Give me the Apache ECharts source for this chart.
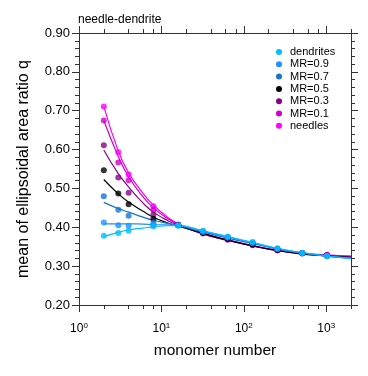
<!DOCTYPE html>
<html>
<head>
<meta charset="utf-8">
<script src="https://cdn.jsdelivr.net/npm/echarts@6/dist/echarts.min.js"></script>
<style>
  html, body { margin: 0; padding: 0; background: #fff; }
  #chart { width: 368px; height: 376px; }
</style>
</head>
<body>
<div id="chart"></div>
<script>
// monomer numbers of the plotted means
var xPoints = [2, 3, 4, 8, 16, 32, 64, 128, 256, 512, 1024];
var xFit = [2, 3, 4, 6, 8, 12, 16, 32, 64, 128, 256, 512, 1024, 2000];

var names = ['dendrites', 'MR=0.9', 'MR=0.7', 'MR=0.5', 'MR=0.3', 'MR=0.1', 'needles'];
var colors = ['#00bfff', '#1e90ff', '#1874cd', '#000000', '#8b008b', '#cd00cd', '#ff00ff'];

var dendrites = [0.378, 0.385, 0.391, 0.402, 0.404, 0.391, 0.376, 0.362, 0.346, 0.334, 0.326];
var mr09 = [0.412, 0.405, 0.404, 0.405, 0.405, 0.390, 0.375, 0.361, 0.345, 0.334, 0.326];
var mr07 = [0.480, 0.445, 0.430, 0.411, 0.405, 0.388, 0.373, 0.359, 0.344, 0.334, 0.327];
var mr05 = [0.547, 0.487, 0.459, 0.422, 0.405, 0.386, 0.370, 0.356, 0.342, 0.333, 0.327];
var mr03 = [0.611, 0.528, 0.489, 0.433, 0.406, 0.385, 0.369, 0.355, 0.341, 0.333, 0.328];
var mr01 = [0.675, 0.567, 0.521, 0.445, 0.406, 0.385, 0.369, 0.355, 0.341, 0.333, 0.328];
var needles = [0.711, 0.593, 0.536, 0.454, 0.407, 0.384, 0.368, 0.354, 0.341, 0.333, 0.329];

var fitDendrites = [0.376, 0.387, 0.393, 0.398, 0.401, 0.404, 0.404, 0.391, 0.376, 0.361, 0.346, 0.335, 0.326, 0.320];
var fitMr09 = [0.409, 0.409, 0.409, 0.408, 0.407, 0.406, 0.405, 0.390, 0.375, 0.360, 0.345, 0.334, 0.326, 0.320];
var fitMr07 = [0.464, 0.448, 0.439, 0.426, 0.418, 0.410, 0.404, 0.388, 0.372, 0.358, 0.344, 0.334, 0.326, 0.321];
var fitMr05 = [0.523, 0.486, 0.465, 0.441, 0.426, 0.411, 0.403, 0.385, 0.367, 0.352, 0.340, 0.331, 0.326, 0.322];
var fitMr03 = [0.599, 0.538, 0.504, 0.462, 0.439, 0.417, 0.406, 0.383, 0.366, 0.352, 0.340, 0.332, 0.327, 0.324];
var fitMr01 = [0.675, 0.582, 0.530, 0.478, 0.450, 0.422, 0.408, 0.383, 0.367, 0.353, 0.341, 0.333, 0.328, 0.325];
var fitNeedles = [0.711, 0.596, 0.540, 0.487, 0.457, 0.425, 0.409, 0.383, 0.367, 0.353, 0.341, 0.333, 0.329, 0.326];

var pointSets = [dendrites, mr09, mr07, mr05, mr03, mr01, needles];
var fitSets = [fitDendrites, fitMr09, fitMr07, fitMr05, fitMr03, fitMr01, fitNeedles];

var majorX = [1, 10, 100, 1000];
var minorX = [2, 4, 6, 8, 20, 40, 60, 80, 200, 400, 600, 800, 2000];

var font = 'Liberation Sans, Arial, Helvetica, sans-serif';
var axisCol = '#333';

function pairs(xs, ys) {
    return xs.map(function (x, i) { return [x, ys[i]]; });
}

var chart = echarts.init(document.getElementById('chart'), null, { renderer: 'canvas' });

var series = [];
// needles drawn first, dendrites last (on top)
for (var k = names.length - 1; k >= 0; k--) {
    series.push({
        name: names[k],
        type: 'line',
        smooth: true,
        data: pairs(xFit, fitSets[k]),
        showSymbol: false,
        lineStyle: { color: colors[k], width: 1.2 },
        itemStyle: { color: colors[k] },
        z: 2
    });
    series.push({
        name: names[k],
        type: 'scatter',
        data: pairs(xPoints, pointSets[k]),
        symbol: 'circle',
        symbolSize: 6,
        itemStyle: { color: colors[k] },
        z: 3
    });
}

var xBase = {
    type: 'log',
    logBase: 10,
    min: 1,
    max: 2000,
    axisLine: { show: true, lineStyle: { color: axisCol, width: 1 } },
    splitLine: { show: false },
    minorTick: { show: false }
};
var yBase = {
    type: 'value',
    min: 0.2,
    max: 0.9,
    interval: 0.1,
    axisLine: { show: true, lineStyle: { color: axisCol, width: 1 } },
    splitLine: { show: false },
    minorTick: { show: true, splitNumber: 5, length: 4, lineStyle: { color: axisCol } },
    axisTick: { show: true, length: 7, lineStyle: { color: axisCol } }
};

var option = {
    backgroundColor: '#fff',
    animation: false,
    title: {
        text: 'needle-dendrite',
        left: 78,
        top: 14,
        padding: [0, 0, 0, 0],
        textStyle: { fontFamily: font, fontSize: 12, fontWeight: 'normal', color: '#000' }
    },
    grid: { left: 79, right: 17, top: 33, bottom: 71, containLabel: false },
    legend: {
        orient: 'vertical',
        left: 276,
        top: 46,
        padding: 0,
        icon: 'circle',
        itemWidth: 6,
        itemHeight: 6,
        itemGap: 0.3,
        textStyle: { fontFamily: font, fontSize: 11, lineHeight: 12, color: '#000', padding: [0, 0, 0, 3] },
        data: names
    },
    xAxis: [
        Object.assign({}, xBase, {
            position: 'bottom',
            name: 'monomer number',
            nameLocation: 'middle',
            nameGap: 38,
            nameTextStyle: { fontFamily: font, fontSize: 15.5, color: '#000' },
            axisTick: { show: true, length: 7, customValues: majorX, lineStyle: { color: axisCol } },
            axisLabel: {
                show: true,
                customValues: majorX,
                margin: 17,
                formatter: function (v) {
                    return '{b|10}{s|' + Math.round(Math.log10(v)) + '}';
                },
                rich: {
                    b: { fontFamily: font, fontSize: 12, color: '#000' },
                    s: { fontFamily: font, fontSize: 8, color: '#000', verticalAlign: 'top', padding: [0, 0, 6, 0] }
                }
            }
        }),
        Object.assign({}, xBase, {
            position: 'bottom',
            axisLine: { show: false },
            axisTick: { show: true, length: 4, customValues: minorX, lineStyle: { color: axisCol } },
            axisLabel: { show: false }
        }),
        Object.assign({}, xBase, {
            position: 'top',
            axisTick: { show: true, length: 7, customValues: majorX, lineStyle: { color: axisCol } },
            axisLabel: { show: false }
        }),
        Object.assign({}, xBase, {
            position: 'top',
            axisLine: { show: false },
            axisTick: { show: true, length: 4, customValues: minorX, lineStyle: { color: axisCol } },
            axisLabel: { show: false }
        })
    ],
    yAxis: [
        Object.assign({}, yBase, {
            position: 'left',
            name: 'mean of ellipsoidal area ratio q',
            nameLocation: 'middle',
            nameGap: 47,
            nameTextStyle: { fontFamily: font, fontSize: 16, color: '#000' },
            axisLabel: {
                margin: 9,
                fontFamily: font,
                fontSize: 13,
                color: '#000',
                formatter: function (v) { return v.toFixed(2); }
            }
        }),
        Object.assign({}, yBase, {
            position: 'right',
            axisLabel: { show: false }
        })
    ],
    series: series
};

chart.setOption(option);
</script>
</body>
</html>
